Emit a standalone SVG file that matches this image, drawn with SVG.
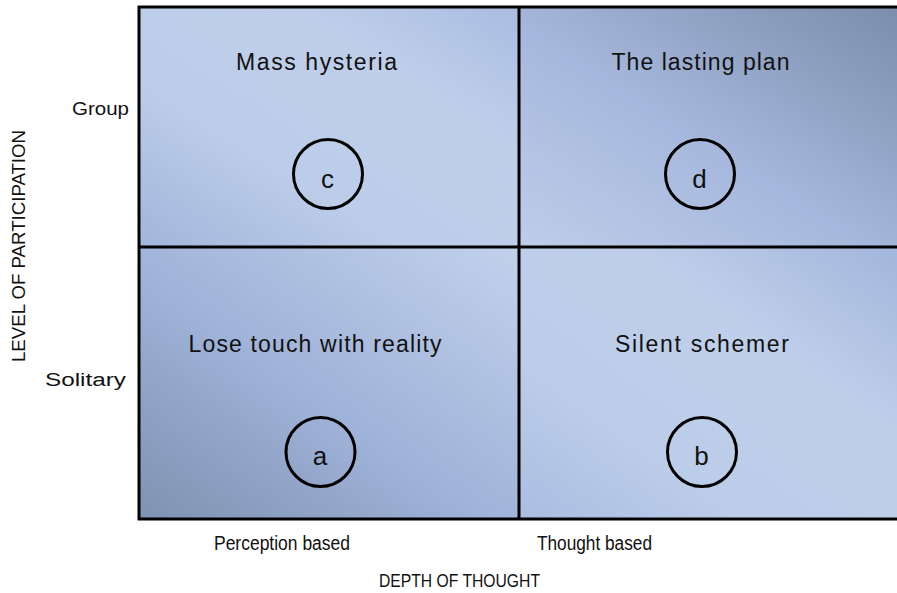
<svg xmlns="http://www.w3.org/2000/svg" width="897" height="593" viewBox="0 0 897 593">
<style>
.lbl{font-family:"Liberation Sans",Arial,sans-serif;fill:#111;}
.q{font-size:23px;text-anchor:middle;}
.ax{font-size:18px;}
.ltr{font-size:26px;text-anchor:middle;}
.circ{fill:none;stroke:#000;stroke-width:3;}
.grid{stroke:#000;stroke-width:3;fill:none;}
</style>
<defs>
<linearGradient id="gTL" x1="0" y1="1" x2="1" y2="0">
<stop offset="0" stop-color="#a2b5db"/>
<stop offset="0.35" stop-color="#bccde9"/>
<stop offset="0.7" stop-color="#bfcfea"/>
<stop offset="1" stop-color="#a9bce1"/>
</linearGradient>
<linearGradient id="gTR" x1="0" y1="1" x2="1" y2="0">
<stop offset="0" stop-color="#bdcde9"/>
<stop offset="0.45" stop-color="#a6b8dd"/>
<stop offset="1" stop-color="#7b8dab"/>
</linearGradient>
<linearGradient id="gBL" x1="0" y1="1" x2="1" y2="0">
<stop offset="0" stop-color="#7e92b2"/>
<stop offset="0.45" stop-color="#9fb2d8"/>
<stop offset="1" stop-color="#c2d2ec"/>
</linearGradient>
<linearGradient id="gBR" x1="0" y1="1" x2="1" y2="0">
<stop offset="0" stop-color="#aabde2"/>
<stop offset="0.3" stop-color="#bccde9"/>
<stop offset="0.65" stop-color="#bfcfea"/>
<stop offset="1" stop-color="#a2b5db"/>
</linearGradient>
</defs>
<rect width="897" height="593" fill="#fff"/>
<g id="quadrants">
<rect x="139" y="7" width="380" height="240" fill="url(#gTL)"/>
<rect x="519" y="7" width="380" height="240" fill="url(#gTR)"/>
<rect x="139" y="247" width="380" height="272" fill="url(#gBL)"/>
<rect x="519" y="247" width="380" height="272" fill="url(#gBR)"/>
</g>
<g id="connectors">
<path class="grid" d="M900 7 H139 V519 H900" stroke-width="4"/>
<line class="grid" x1="519" y1="7" x2="519" y2="519"/>
<line class="grid" x1="139" y1="247" x2="900" y2="247"/>
</g>
<g id="node-c">
<text class="lbl q" x="316.5" y="70" textLength="161" lengthAdjust="spacing">Mass hysteria</text>
<circle class="circ" cx="328" cy="174" r="34.5"/>
<text class="lbl ltr" x="327.5" y="188">c</text>
</g>
<g id="node-d">
<text class="lbl q" x="700.5" y="70" textLength="178" lengthAdjust="spacing">The lasting plan</text>
<circle class="circ" cx="700" cy="174" r="34.5"/>
<text class="lbl ltr" x="699.5" y="188">d</text>
</g>
<g id="node-a">
<text class="lbl q" x="315" y="352" textLength="253" lengthAdjust="spacing">Lose touch with reality</text>
<circle class="circ" cx="320.5" cy="452" r="34.5"/>
<text class="lbl ltr" x="320" y="465">a</text>
</g>
<g id="node-b">
<text class="lbl q" x="702" y="352" textLength="174" lengthAdjust="spacing">Silent schemer</text>
<circle class="circ" cx="702" cy="452" r="34.5"/>
<text class="lbl ltr" x="701.5" y="465">b</text>
</g>
<g id="axes">
<text class="lbl ax" x="72" y="115" textLength="57" lengthAdjust="spacingAndGlyphs">Group</text>
<text class="lbl ax" x="45" y="386" textLength="81" lengthAdjust="spacingAndGlyphs">Solitary</text>
<text class="lbl ax" x="0" y="0" transform="translate(25 246) rotate(-90)" text-anchor="middle" style="font-size:19px" textLength="232" lengthAdjust="spacingAndGlyphs">LEVEL OF PARTICIPATION</text>
<text class="lbl ax" x="214" y="550" style="font-size:20px" textLength="136" lengthAdjust="spacingAndGlyphs">Perception based</text>
<text class="lbl ax" x="537" y="550" style="font-size:20px" textLength="115" lengthAdjust="spacingAndGlyphs">Thought based</text>
<text class="lbl ax" x="379" y="587" style="font-size:19px" textLength="161" lengthAdjust="spacingAndGlyphs">DEPTH OF THOUGHT</text>
</g>
</svg>
